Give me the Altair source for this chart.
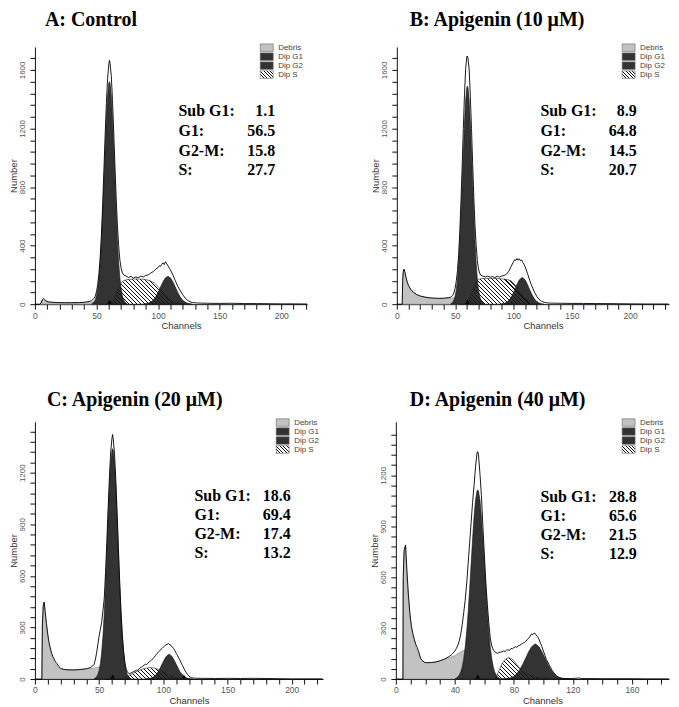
import altair as alt
import pandas as pd

# ---------------- data ----------------
TITLES = ["A: Control", "B: Apigenin (10 \u03bcM)", "C: Apigenin (20 \u03bcM)", "D: Apigenin (40 \u03bcM)"]
LEGEND_NAMES = ["Debris", "Dip G1", "Dip G2", "Dip S"]
STAT_LABELS = ["Sub G1:", "G1:", "G2-M:", "S:"]
A_STATS = ["1.1", "56.5", "15.8", "27.7"]
B_STATS = ["8.9", "64.8", "14.5", "20.7"]
C_STATS = ["18.6", "69.4", "17.4", "13.2"]
D_STATS = ["28.8", "65.6", "21.5", "12.9"]

# ---- Panel A ----
A_OUT_CH = [0, 4, 5, 6, 7, 8, 9, 11, 14, 18, 24, 30, 36, 40, 44, 46, 47, 48, 49, 50, 51, 52, 53, 54, 55, 56, 57, 58, 59, 60, 60.5, 61, 62, 63, 64, 65, 66, 67, 68, 69, 70, 71, 72, 74, 76, 78, 80, 82, 84, 86, 88, 90, 92, 94, 96, 98, 100, 101, 102, 103, 104, 105, 106, 107, 108, 109, 110, 112, 114, 116, 118, 120, 122, 124, 126, 128, 132, 140, 150, 160, 170, 180, 190, 200, 210, 221]
A_OUT_V = [0, 0, 8, 30, 38, 32, 22, 16, 13, 11, 10, 10, 11, 13, 18, 24, 30, 40, 55, 85, 135, 210, 320, 475, 680, 910, 1150, 1370, 1540, 1640, 1665, 1645, 1560, 1390, 1170, 940, 720, 540, 400, 300, 245, 215, 200, 192, 182, 190, 178, 186, 180, 192, 185, 196, 200, 212, 222, 238, 250, 262, 258, 272, 282, 270, 290, 276, 262, 248, 235, 200, 160, 122, 92, 65, 42, 26, 16, 11, 8, 6, 5, 6, 4, 4, 3, 2, 2, 1]
A_DEB_CH = [4, 5, 6, 7, 8, 10, 13, 17, 22, 30, 38, 44, 48, 51, 52]
A_DEB_V = [0, 10, 26, 32, 25, 16, 12, 10, 9, 9, 10, 12, 15, 18, 0]
A_G1_CH = [46, 47, 48, 49, 50, 51, 52, 53, 54, 55, 56, 57, 58, 59, 60, 60.5, 61, 62, 63, 64, 65, 66, 67, 68, 69, 70, 71, 72, 73, 74, 75]
A_G1_V = [0, 7, 15, 30, 57, 104, 177, 285, 433, 618, 832, 1056, 1262, 1422, 1509, 1520, 1509, 1422, 1262, 1056, 832, 618, 433, 285, 177, 104, 57, 30, 15, 7, 0]
A_S_CH = [60, 62, 64, 66, 68, 70, 72, 75, 80, 85, 90, 94, 97, 100, 103, 106, 109, 112, 115, 118, 121]
A_S_V = [0, 10, 35, 75, 115, 145, 160, 168, 172, 172, 168, 158, 145, 120, 90, 60, 35, 18, 7, 2, 0]
A_G2_CH = [88, 90, 92, 94, 96, 98, 100, 102, 104, 106, 108, 110, 112, 114, 116, 118, 120, 122, 124, 126, 128]
A_G2_V = [0, 2, 6, 14, 27, 49, 80, 117, 153, 180, 190, 180, 153, 117, 80, 49, 27, 14, 6, 2, 0]
A_MARKS = [60.5]

# ---- Panel B ----
B_OUT_CH = [0, 4.6, 5, 5.5, 6.2, 7, 8, 9, 10, 12, 14, 17, 20, 25, 30, 35, 40, 44, 46, 47, 48, 49, 50, 51, 52, 53, 54, 55, 56, 57, 58, 59, 60, 60.5, 61, 62, 63, 64, 65, 66, 67, 68, 69, 70, 71, 72, 74, 76, 78, 80, 82, 84, 86, 88, 90, 92, 94, 96, 98, 100, 101, 102, 103, 104, 105, 106, 107, 108, 109, 110, 112, 114, 116, 118, 120, 122, 124, 126, 128, 132, 140, 150, 160, 170, 180, 190, 200, 215, 233]
B_OUT_V = [0, 0, 160, 225, 240, 218, 180, 150, 128, 100, 83, 66, 56, 47, 42, 40, 41, 44, 48, 53, 60, 80, 110, 160, 230, 340, 500, 710, 950, 1200, 1430, 1610, 1690, 1695, 1680, 1600, 1420, 1200, 960, 730, 540, 400, 300, 240, 212, 198, 190, 186, 192, 184, 188, 182, 190, 185, 192, 196, 205, 225, 258, 290, 305, 298, 312, 300, 310, 296, 302, 285, 272, 255, 210, 160, 118, 82, 52, 32, 20, 13, 9, 7, 6, 5, 5, 4, 4, 3, 2, 1, 1]
B_DEB_CH = [4.6, 5, 5.5, 6.2, 7, 8, 9, 10, 12, 14, 17, 20, 25, 30, 35, 40, 45, 48, 51, 53, 54]
B_DEB_V = [0, 150, 215, 235, 210, 172, 145, 125, 98, 80, 64, 54, 45, 40, 38, 38, 40, 43, 46, 48, 0]
B_G1_CH = [46, 47, 48, 49, 50, 51, 52, 53, 54, 55, 56, 57, 58, 59, 60, 60.5, 61, 62, 63, 64, 65, 66, 67, 68, 69, 70, 71, 72, 73, 74, 75]
B_G1_V = [0, 7, 14, 29, 56, 102, 174, 280, 424, 606, 816, 1035, 1237, 1394, 1479, 1490, 1479, 1394, 1237, 1035, 816, 606, 424, 280, 174, 102, 56, 29, 14, 7, 0]
B_S_CH = [58, 60, 62, 64, 66, 68, 70, 73, 78, 85, 90, 95, 98, 101, 104, 107, 110, 113, 116, 119]
B_S_V = [0, 10, 35, 75, 120, 155, 170, 175, 176, 175, 173, 168, 158, 135, 100, 65, 38, 18, 6, 0]
B_G2_CH = [89, 91, 93, 95, 97, 99, 101, 103, 105, 107, 107.5, 108, 110, 112, 114, 116, 118, 120, 122, 124, 126]
B_G2_V = [0, 3, 8, 18, 35, 62, 97, 135, 166, 181, 182, 181, 166, 135, 97, 62, 35, 18, 8, 3, 0]
B_MARKS = [60.5]

# ---- Panel C ----
C_OUT_CH = [0, 5.4, 5.8, 6.5, 7.2, 8, 9, 10, 11, 12, 13, 14, 15, 16, 17, 18, 19, 20, 22, 25, 30, 35, 40, 43, 45, 46, 47, 48, 49, 50, 51, 52, 53, 54, 55, 56, 57, 58, 59, 60, 60.5, 61, 62, 63, 64, 65, 66, 67, 68, 69, 70, 71, 72, 73, 74, 75, 76, 77, 78, 79, 80, 81, 82, 83, 84, 85, 86, 87, 88, 89, 90, 91, 92, 93, 94, 95, 96, 97, 98, 99, 100, 101, 102, 103, 104, 105, 106, 107, 108, 109, 110, 111, 112, 113, 114, 115, 116, 117, 118, 119, 120, 121, 122, 124, 130, 140, 150, 160, 170, 180, 190, 200, 224]
C_OUT_V = [0, 0, 320, 430, 448, 392, 322, 262, 212, 182, 150, 130, 116, 100, 92, 80, 70, 62, 57, 54, 53, 55, 60, 66, 76, 84, 110, 150, 200, 250, 290, 330, 400, 470, 620, 800, 990, 1170, 1320, 1400, 1422, 1395, 1310, 1160, 970, 765, 570, 400, 265, 168, 100, 60, 40, 34, 32, 36, 40, 44, 47, 52, 50, 58, 66, 70, 75, 80, 86, 84, 92, 100, 106, 112, 118, 128, 138, 148, 155, 162, 172, 178, 186, 192, 198, 202, 206, 200, 196, 186, 178, 165, 150, 138, 122, 110, 92, 78, 62, 48, 36, 25, 16, 11, 8, 5, 4, 3, 4, 3, 4, 3, 2, 1, 1]
C_DEB_CH = [5.4, 5.8, 6.5, 7.2, 8, 9, 10, 11, 12, 13, 14, 15, 16, 18, 20, 25, 30, 35, 40, 44, 47, 50, 53, 54]
C_DEB_V = [0, 300, 420, 442, 380, 310, 250, 200, 165, 140, 120, 104, 90, 70, 58, 52, 52, 54, 58, 62, 66, 70, 72, 0]
C_G1_CH = [46, 47, 48, 49, 50, 51, 52, 53, 54, 55, 56, 57, 58, 59, 60, 60.5, 61, 62, 63, 64, 65, 66, 67, 68, 69, 70, 71, 72, 73, 74, 75]
C_G1_V = [0, 6, 13, 26, 50, 91, 156, 251, 381, 545, 734, 931, 1113, 1253, 1330, 1340, 1330, 1253, 1113, 931, 734, 545, 381, 251, 156, 91, 50, 26, 13, 6, 0]
C_S_CH = [68, 70, 72, 75, 78, 81, 84, 87, 90, 93, 96, 99, 102, 105, 108, 111, 114, 117]
C_S_V = [0, 5, 15, 28, 40, 50, 58, 64, 66, 64, 56, 45, 33, 22, 13, 6, 2, 0]
C_G2_CH = [86, 88, 90, 92, 94, 96, 98, 100, 102, 104, 104.5, 105, 107, 109, 111, 113, 115, 117, 119, 121, 123]
C_G2_V = [0, 2, 4, 11, 23, 43, 71, 102, 129, 143, 144, 143, 129, 102, 71, 43, 23, 11, 4, 2, 0]
C_MARKS = [60.5, 116]

# ---- Panel D ----
D_OUT_CH = [0, 4.8, 5.0, 5.6, 6.6, 7.5, 8.5, 9.5, 10.5, 11.5, 12.5, 13.5, 14.5, 15.5, 16.5, 17.5, 18.5, 19.5, 21, 24, 27, 30, 33, 36, 38, 40, 41, 42, 43, 44, 45, 46, 47, 48, 49, 50, 51, 52, 53, 54, 55, 55.5, 56, 57, 58, 59, 60, 61, 62, 63, 64, 65, 66, 67, 68, 69, 70, 71, 72, 73, 74, 75, 76, 77, 78, 79, 80, 81, 82, 83, 84, 85, 86, 87, 88, 89, 90, 91, 92, 93, 94, 95, 96, 97, 98, 99, 100, 101, 102, 103, 104, 105, 106, 107, 108, 109, 110, 111, 112, 113, 115, 120, 124, 126, 130, 140, 150, 160, 170, 180, 185]
D_OUT_V = [0, 0, 600, 760, 790, 640, 500, 390, 315, 270, 235, 205, 185, 160, 130, 112, 105, 98, 96, 97, 100, 108, 118, 132, 145, 165, 180, 198, 225, 265, 320, 390, 465, 560, 680, 800, 920, 1040, 1140, 1250, 1330, 1339, 1320, 1210, 1080, 900, 730, 570, 440, 330, 240, 195, 172, 160, 155, 152, 156, 158, 160, 165, 162, 170, 172, 168, 180, 178, 185, 190, 187, 195, 198, 205, 210, 215, 222, 232, 240, 252, 266, 262, 272, 260, 250, 235, 212, 190, 165, 140, 115, 100, 82, 66, 50, 38, 26, 18, 11, 8, 5, 4, 3, 3, 6, 3, 3, 2, 2, 2, 1, 1, 1]
D_DEB_CH = [4.8, 5.0, 5.6, 6.6, 7.5, 8.5, 9.5, 10.5, 11.5, 12.5, 13.5, 14.5, 15.5, 16.5, 17.5, 18.5, 20, 24, 28, 32, 36, 40, 42, 44, 46, 48, 50, 52, 53]
D_DEB_V = [0, 560, 740, 784, 620, 480, 375, 300, 255, 220, 190, 165, 145, 125, 110, 102, 97, 97, 102, 112, 125, 138, 150, 160, 170, 178, 184, 188, 0]
D_G1_CH = [40, 41, 42, 43, 44, 45, 46, 47, 48, 49, 50, 51, 52, 53, 54, 55, 55.5, 56, 57, 58, 59, 60, 61, 62, 63, 64, 65, 66, 67, 68, 69, 70, 71]
D_G1_V = [0, 6, 12, 23, 42, 73, 120, 187, 278, 392, 528, 676, 823, 955, 1054, 1107, 1114, 1107, 1054, 955, 823, 676, 528, 392, 278, 187, 120, 73, 42, 23, 12, 6, 0]
D_S_CH = [66, 68, 70, 72, 74, 76, 78, 80, 82, 84, 86, 89, 92, 96, 100, 104, 106]
D_S_V = [0, 15, 50, 92, 115, 125, 122, 108, 85, 62, 45, 30, 20, 11, 5, 1, 0]
D_G2_CH = [72, 74, 76, 78, 80, 82, 84, 86, 88, 90, 92, 94, 94.5, 95, 97, 99, 101, 103, 105, 107, 109, 111, 113, 115, 117]
D_G2_V = [0, 1, 3, 8, 17, 32, 56, 87, 124, 161, 190, 205, 206, 205, 190, 161, 124, 87, 56, 32, 17, 8, 3, 1, 0]
D_MARKS = [55.5]

# ---------------- styling / layout ----------------
SANS = "Liberation Sans"
SERIF = "Liberation Serif"
DEB_FILL = "#c2c2c2"
DARK_FILL = "#333333"


def hatch_fill(w_px, h_px, spacing=4.0, frac=0.26):
    r = h_px / w_px
    k = (1 + r) / (1 + r * r)
    n = max(3, int(round((w_px + h_px) / spacing)))
    stops = []
    for i in range(n):
        a, b, c = i / n, (i + frac) / n, (i + 1) / n
        stops += [alt.GradientStop(offset=a, color="#111111"),
                  alt.GradientStop(offset=b, color="#111111"),
                  alt.GradientStop(offset=b, color="rgba(255,255,255,0)"),
                  alt.GradientStop(offset=c, color="rgba(255,255,255,0)")]
    return alt.LinearGradient(gradient="linear", stops=stops, x1=0, y1=1, x2=k, y2=1 - k * r)


PANELS = [
    dict(title=TITLES[0], W=273, H=258, xmax=221.0, ymax=1757.0, ystep=80, ytop=1680, ylab=400, xlab=50,
         out=(A_OUT_CH, A_OUT_V), deb=(A_DEB_CH, A_DEB_V), g1=(A_G1_CH, A_G1_V), s=(A_S_CH, A_S_V),
         g2=(A_G2_CH, A_G2_V), marks=A_MARKS, stats=A_STATS,
         ann=(144, 241, 69.5, 19.7), dx=10, toff=14),
    dict(title=TITLES[1], W=273, H=258, xmax=233.3, ymax=1757.0, ystep=80, ytop=1680, ylab=400, xlab=50,
         out=(B_OUT_CH, B_OUT_V), deb=(B_DEB_CH, B_DEB_V), g1=(B_G1_CH, B_G1_V), s=(B_S_CH, B_S_V),
         g2=(B_G2_CH, B_G2_V), marks=B_MARKS, stats=B_STATS,
         ann=(144, 240.5, 69.7, 19.7), dx=13, toff=14),
    dict(title=TITLES[2], W=289, H=258, xmax=224.4, ymax=1496.0, ystep=60, ytop=1440, ylab=300, xlab=50,
         out=(C_OUT_CH, C_OUT_V), deb=(C_DEB_CH, C_DEB_V), g1=(C_G1_CH, C_G1_V), s=(C_S_CH, C_S_V),
         g2=(C_G2_CH, C_G2_V), marks=C_MARKS, stats=C_STATS,
         ann=(160, 256.6, 79.3, 19.2), dx=12, toff=9),
    dict(title=TITLES[3], W=274, H=258, xmax=185.1, ymax=1515.0, ystep=60, ytop=1440, ylab=300, xlab=40,
         out=(D_OUT_CH, D_OUT_V), deb=(D_DEB_CH, D_DEB_V), g1=(D_G1_CH, D_G1_V), s=(D_S_CH, D_S_V),
         g2=(D_G2_CH, D_G2_V), marks=D_MARKS, stats=D_STATS,
         ann=(145, 241.7, 80.3, 19.1), dx=14, toff=9),
]


def make_panel(p):
    W, H, XM, YM = p["W"], p["H"], p["xmax"], p["ymax"]
    pxx = W / XM
    pxy = H / YM

    def dx_(px):
        return px / pxx

    def dy_(py):
        return (H - py) / pxy

    xs = alt.Scale(domain=[0, XM], nice=False, zero=False)
    ys = alt.Scale(domain=[0, YM], nice=False, zero=False)
    xaxis = alt.Axis(values=list(range(0, int(XM) + 1, 10)),
                     labelExpr=f"datum.value % {p['xlab']} === 0 ? '' + datum.value : ''",
                     labelFlush=False, labelOverlap=False, grid=False,
                     domainColor="#111", tickColor="#111", tickSize=5, tickWidth=1,
                     labelFont=SANS, labelFontSize=8.5, labelColor="#555", labelPadding=2,
                     title="Channels", titleFont=SANS, titleFontSize=9.5, titleFontWeight="normal",
                     titleColor="#333", titlePadding=1, titleX=W / 2 + 10)
    yaxis = alt.Axis(values=list(range(0, p["ytop"] + 1, p["ystep"])),
                     labelExpr=f"datum.value % {p['ylab']} === 0 ? '' + datum.value : ''",
                     labelFlush=False, labelOverlap=False, grid=False,
                     labelAngle=270, labelAlign="center", labelBaseline="bottom",
                     domainColor="#111", tickColor="#111", tickSize=5, tickWidth=1,
                     labelFont=SANS, labelFontSize=8, labelColor="#555", labelPadding=3,
                     title="Number", titleFont=SANS, titleFontSize=9.5, titleFontWeight="normal",
                     titleColor="#333", titlePadding=0)

    def X(f):
        return alt.X(f"{f}:Q", scale=xs, axis=xaxis)

    def Y(f):
        return alt.Y(f"{f}:Q", scale=ys, axis=yaxis)

    def df(pair):
        return pd.DataFrame({"ch": pair[0], "v": pair[1]})

    deb = alt.Chart(df(p["deb"])).mark_area(fill=DEB_FILL, stroke="#777", strokeWidth=0.5).encode(x=X("ch"), y=Y("v"))
    g1 = alt.Chart(df(p["g1"])).mark_area(fill=DARK_FILL, stroke="#111", strokeWidth=0.6).encode(x=X("ch"), y=Y("v"))
    g2 = alt.Chart(df(p["g2"])).mark_area(fill=DARK_FILL, stroke="#111", strokeWidth=0.6).encode(x=X("ch"), y=Y("v"))
    s_ch, s_v = p["s"]
    s_w = (max(s_ch) - min(s_ch)) * pxx
    s_h = max(s_v) * pxy
    s_area = alt.Chart(df(p["s"])).mark_area(fill=hatch_fill(s_w, s_h), stroke="#222",
                                              strokeWidth=0.6).encode(x=X("ch"), y=Y("v"))
    outline = alt.Chart(df(p["out"])).mark_line(color="#000", strokeWidth=0.9).encode(x=X("ch"), y=Y("v"))
    tri = alt.Chart(pd.DataFrame({"ch": p["marks"], "v": [0] * len(p["marks"])})).mark_point(
        shape="triangle-up", filled=True, color="#000", size=22, opacity=1, yOffset=-2.5).encode(x=X("ch"), y=Y("v"))

    # legend (inside the top-right corner)
    lx0 = W - 47
    lx1 = lx0 + 13
    tops = [-3 + 9 * i for i in range(4)]
    leg_fill = [DEB_FILL, DARK_FILL, DARK_FILL]
    leg_df = pd.DataFrame({"x1": [dx_(lx0)] * 3, "x2": [dx_(lx1)] * 3,
                           "y1": [dy_(t) for t in tops[:3]], "y2": [dy_(t + 7.5) for t in tops[:3]],
                           "fill": leg_fill})
    leg_rect = alt.Chart(leg_df).mark_rect(stroke="#666", strokeWidth=0.6).encode(
        x=X("x1"), x2="x2:Q", y=Y("y1"), y2="y2:Q", fill=alt.Fill("fill:N", scale=None))
    hatch_df = pd.DataFrame({"x1": [dx_(lx0)], "x2": [dx_(lx1)], "y1": [dy_(tops[3])], "y2": [dy_(tops[3] + 7.5)]})
    leg_hatch = alt.Chart(hatch_df).mark_rect(fill=hatch_fill(13, 7.5, spacing=3.4, frac=0.3), stroke="#666",
                                              strokeWidth=0.6).encode(
        x=X("x1"), x2="x2:Q", y=Y("y1"), y2="y2:Q")
    leg_txt_df = pd.DataFrame({"name": LEGEND_NAMES, "tx": [dx_(lx1 + 5)] * 4,
                               "ty": [dy_(t + 3.8) for t in tops]})
    leg_txt = alt.Chart(leg_txt_df).mark_text(align="left", baseline="middle", font=SANS, fontSize=8,
                                              color="#444").encode(x=X("tx"), y=Y("ty"), text="name:N")

    # statistics text
    al, ar, atop, astep = p["ann"]
    st_df = pd.DataFrame({"lab": STAT_LABELS, "val": p["stats"],
                          "xl": [dx_(al)] * 4, "xr": [dx_(ar)] * 4,
                          "ty": [dy_(atop + astep * i) for i in range(4)]})
    st_lab = alt.Chart(st_df).mark_text(align="left", baseline="alphabetic", font=SERIF, fontSize=16,
                                        fontWeight="bold", color="#000").encode(x=X("xl"), y=Y("ty"), text="lab:N")
    st_val = alt.Chart(st_df).mark_text(align="right", baseline="alphabetic", font=SERIF, fontSize=16,
                                        fontWeight="bold", color="#000").encode(x=X("xr"), y=Y("ty"), text="val:N")

    return alt.layer(deb, g1, g2, s_area, outline, tri, leg_rect, leg_hatch, leg_txt, st_lab, st_val).properties(
        width=W, height=H,
        title=alt.TitleParams(text=p["title"], anchor="start", dx=p["dx"], offset=p["toff"], font=SERIF,
                              fontSize=20, fontWeight="bold", color="#000", frame="group"))


charts = [make_panel(p) for p in PANELS]
row1 = alt.hconcat(charts[0], charts[1], spacing=62)
row2 = alt.hconcat(charts[2], charts[3], spacing=44)
chart = alt.vconcat(row1, row2, spacing=59).properties(
    padding={"left": 0, "top": 0, "right": 0, "bottom": 0}
).configure_view(stroke=None)

chart.save("out.html", embed_options={"renderer": "svg", "actions": False})
